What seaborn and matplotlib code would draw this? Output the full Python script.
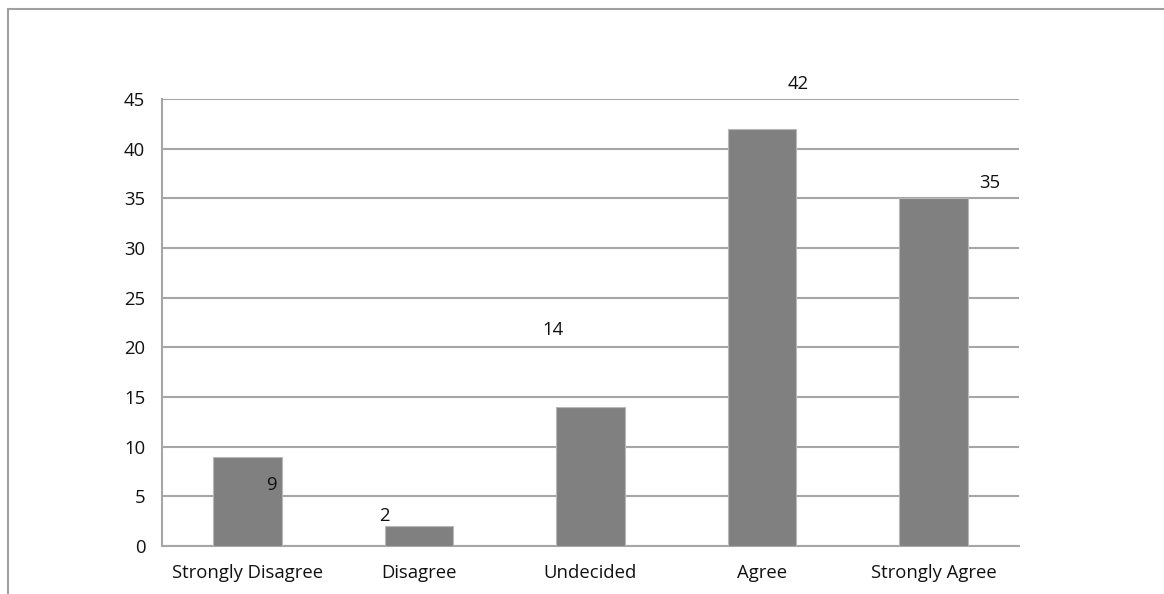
import pandas as pd
import numpy as np
import seaborn as sns
import matplotlib.pyplot as plt
from matplotlib.lines import Line2D

categories = ['Strongly Disagree', 'Disagree', 'Undecided', 'Agree', 'Strongly Agree']
counts = [9, 2, 14, 42, 35]
# where the data labels sit relative to each bar (x offset in categories, y in data units)
label_dx = [0.14, -0.2, -0.22, 0.21, 0.33]
label_y = [6.1, 3.0, 21.7, 46.5, 36.5]

sns.set_style('white')
plt.rcParams['font.family'] = ['Open Sans', 'DejaVu Sans']

df = pd.DataFrame({'response': categories, 'count': counts})

fig = plt.figure(figsize=(11.64, 5.94), dpi=100)
ax = fig.add_axes([0.1392, 0.0808, 0.7363, 0.7525])

sns.barplot(x='response', y='count', data=df, color='#808080', saturation=1,
            width=0.4, edgecolor='#b8b8b8', linewidth=0.8, ax=ax, zorder=3)

ax.set_xlim(-0.5, 4.5)
ax.set_ylim(0, 45)
ax.set_yticks(np.arange(0, 46, 5))
ax.yaxis.grid(True, color='#a6a6a6', linewidth=1.5, zorder=0)
ax.set_axisbelow(True)
ax.set_xlabel('')
ax.set_ylabel('')

for s in ['top', 'right']:
    ax.spines[s].set_visible(False)
for s in ['left', 'bottom']:
    ax.spines[s].set_color('#a6a6a6')
    ax.spines[s].set_linewidth(1.5)

fs = 13.3
ax.tick_params(axis='y', length=7, width=1.5, color='#a6a6a6', labelsize=fs, pad=5, labelcolor='#111111')
ax.tick_params(axis='x', which='major', length=0, labelsize=fs, pad=13, labelcolor='#111111')
ax.set_xticks(np.arange(-0.5, 5, 1), minor=True)
ax.tick_params(axis='x', which='minor', length=8, width=1.5, color='#a6a6a6', direction='out')

for i, v in enumerate(counts):
    ax.text(i + label_dx[i], label_y[i], str(v), ha='center', va='center',
            fontsize=fs, color='#111111')

# outer chart frame
fig.add_artist(Line2D([8 / 1164, 1.01], [1 - 9 / 594, 1 - 9 / 594], color='#a0a0a0', linewidth=1.5))
fig.add_artist(Line2D([8 / 1164, 8 / 1164], [-0.01, 1 - 9 / 594], color='#a0a0a0', linewidth=1.5))

plt.savefig('out.png', dpi=100)
